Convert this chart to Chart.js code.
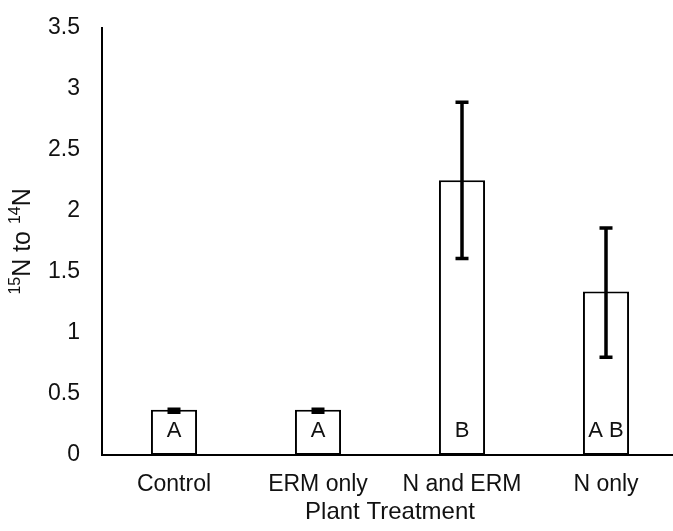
<!DOCTYPE html>
<html>
<head>
<meta charset="utf-8">
<script src="https://cdn.jsdelivr.net/npm/chart.js@4"></script>
<style>
  html, body { margin: 0; padding: 0; background: #fff; overflow: hidden; }
  #wrap { width: 680px; height: 531px; }
</style>
</head>
<body>
<div id="wrap"><canvas id="myChart" width="680" height="531"></canvas></div>
<script>
// datos
var categorias = ['Control', 'ERM only', 'N and ERM', 'N only'];
var valores = [0.37, 0.37, 2.25, 1.34];
var errorArriba = [0.005, 0.005, 0.64, 0.52];
var errorAbajo = [0.02, 0.02, 0.64, 0.54];
var letras = ['A', 'A', 'B', 'A B'];

var fuente = 'Liberation Sans, Arial, sans-serif';

// barras de error
var errorBars = {
    id: 'errorBars',
    afterDatasetsDraw: function(chart) {
        var ctx = chart.ctx;
        var y = chart.scales.y;
        var meta = chart.getDatasetMeta(0);
        ctx.save();
        ctx.strokeStyle = '#000';
        ctx.lineWidth = 3.5;
        meta.data.forEach(function(bar, i) {
            var top = y.getPixelForValue(valores[i] + errorArriba[i]);
            var bot = y.getPixelForValue(valores[i] - errorAbajo[i]);
            ctx.beginPath();
            ctx.moveTo(bar.x, top);
            ctx.lineTo(bar.x, bot);
            ctx.moveTo(bar.x - 6.5, top);
            ctx.lineTo(bar.x + 6.5, top);
            ctx.moveTo(bar.x - 6.5, bot);
            ctx.lineTo(bar.x + 6.5, bot);
            ctx.stroke();
        });
        // letras dentro de las barras
        ctx.fillStyle = '#111';
        ctx.font = '22px ' + fuente;
        ctx.textAlign = 'center';
        ctx.textBaseline = 'middle';
        var base = y.getPixelForValue(0);
        meta.data.forEach(function(bar, i) {
            ctx.fillText(letras[i], bar.x, base - 24);
        });
        ctx.restore();
    }
};

// titulo del eje y con superindices
var tituloY = {
    id: 'tituloY',
    afterDraw: function(chart) {
        var ctx = chart.ctx;
        var partes = [
            {t: '15', sup: true}, {t: 'N to ', sup: false},
            {t: '14', sup: true}, {t: 'N', sup: false}
        ];
        var grande = '25px ' + fuente;
        var chica = '16px ' + fuente;
        ctx.save();
        var total = 0;
        partes.forEach(function(p) {
            ctx.font = p.sup ? chica : grande;
            p.w = ctx.measureText(p.t).width;
            total += p.w;
        });
        var area = chart.chartArea;
        ctx.translate(21, (area.top + area.bottom) / 2);
        ctx.rotate(-Math.PI / 2);
        ctx.fillStyle = '#111';
        ctx.textBaseline = 'alphabetic';
        var x = -total / 2;
        partes.forEach(function(p) {
            ctx.font = p.sup ? chica : grande;
            ctx.fillText(p.t, x, p.sup ? -1 : 9);
            x += p.w;
        });
        ctx.restore();
    }
};

var ctx = document.getElementById('myChart').getContext('2d');
var myChart = new Chart(ctx, {
    type: 'bar',
    data: {
        labels: categorias,
        datasets: [{
            data: valores,
            backgroundColor: '#fff',
            borderColor: '#000',
            borderWidth: 2,
            borderSkipped: false,
            barPercentage: 0.32,
            categoryPercentage: 1
        }]
    },
    options: {
        responsive: false,
        animation: false,
        layout: { padding: { top: 26, right: 2, left: 0, bottom: 0 } },
        plugins: {
            legend: { display: false },
            tooltip: { enabled: false }
        },
        scales: {
            x: {
                z: 1,
                grid: { display: false },
                border: { display: true, color: '#000', width: 2 },
                ticks: { color: '#111', font: { family: fuente, size: 23 }, padding: 8 },
                title: {
                    display: true,
                    text: 'Plant Treatment',
                    color: '#111',
                    font: { family: fuente, size: 24 },
                    padding: { top: 0, bottom: 4 }
                },
                afterFit: function(scale) { scale.height = 76; }
            },
            y: {
                min: 0,
                max: 3.5,
                grid: { display: false },
                border: { display: true, color: '#000', width: 2 },
                ticks: {
                    stepSize: 0.5,
                    color: '#111',
                    font: { family: fuente, size: 23 },
                    padding: 14,
                    callback: function(v) { return String(v); }
                },
                afterFit: function(scale) { scale.width = 102; }
            }
        }
    },
    plugins: [errorBars, tituloY]
});
</script>
</body>
</html>
